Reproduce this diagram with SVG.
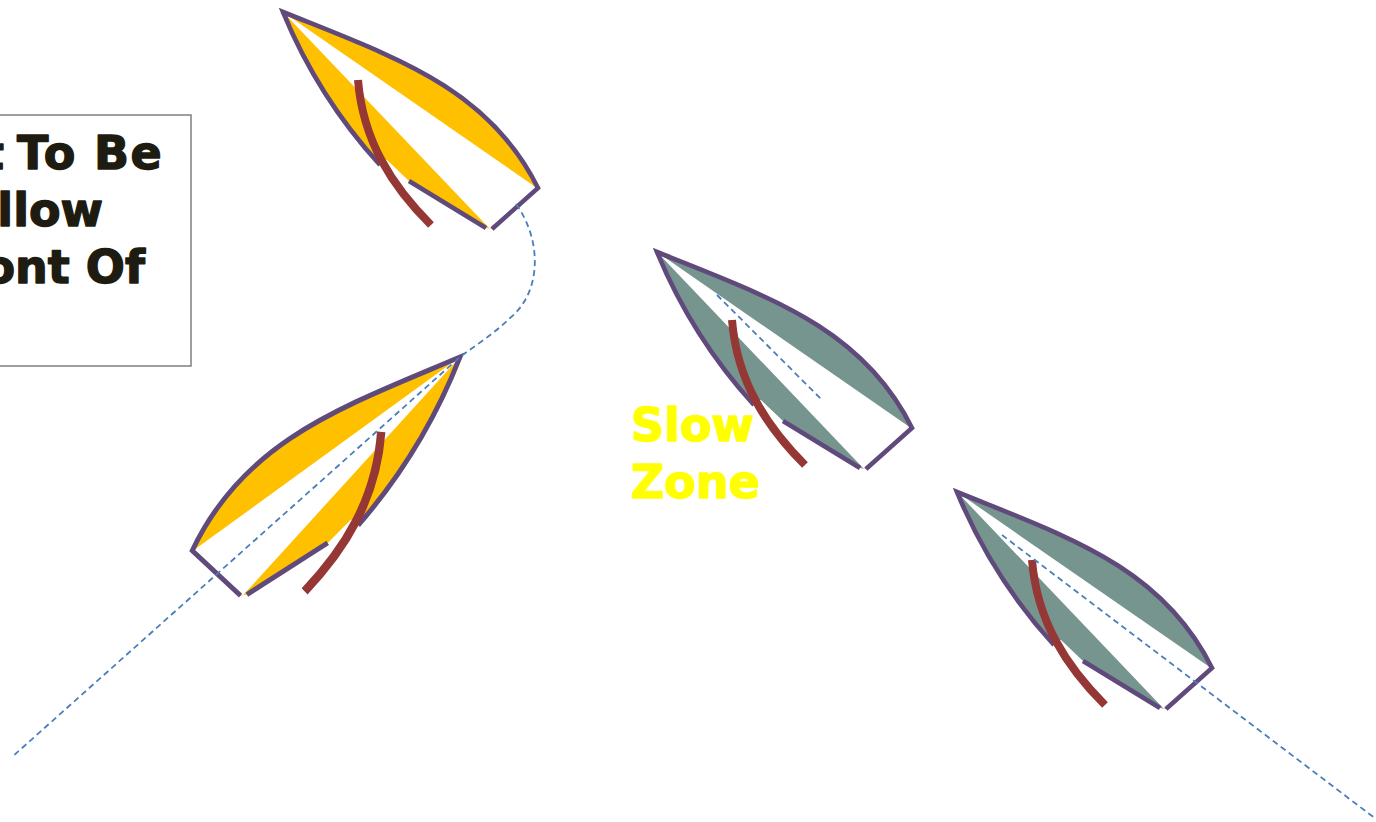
<svg xmlns="http://www.w3.org/2000/svg" xmlns:xlink="http://www.w3.org/1999/xlink" width="1376" height="822" viewBox="0 0 1376 822">
  <style>
    .sail-yellow { fill: #FFC000; }
    .sail-green { fill: #77958F; }
    .deck { fill: #FFFFFF; }
    .hull-line { fill: none; stroke: #604A7B; stroke-width: 4.6; stroke-linejoin: miter; stroke-miterlimit: 10; vector-effect: non-scaling-stroke; }
    .mast { fill: none; stroke: #953735; stroke-width: 8; vector-effect: non-scaling-stroke; }
    .track { fill: none; stroke: #4A7EBB; stroke-width: 1.8; stroke-dasharray: 6 4; }
    .note { font-family: "DejaVu Sans", "Liberation Sans", sans-serif; font-weight: bold; font-size: 46px; stroke-width: 1.4; stroke-linejoin: round; }
    .note-dark { fill: #1E1C11; stroke: #1E1C11; }
    .note-yellow { fill: #FFFF00; stroke: #FFFF00; }
  </style>
  <defs>
    <!-- boat drawn with its bow at the origin, heading up-left -->
    <path id="hull-fill" d="M0,0 C111,45 205,75 255,176 L209,217 L203,216 L126,169 L104,148 L95,150 Q35,85 0,0 Z"/>
    <path id="deck" d="M0,0 L254,176 L207,217 Z"/>
    <path id="hull-line-a" d="M209,217 L255,176 C205,75 111,45 0,0 Q35,85 97,153"/>
    <path id="hull-line-b" d="M126,169 L203,216"/>
    <path id="mast" d="M75,68 C80,130 110,175 148,213"/>
  </defs>

  <!-- note box, running off the left edge -->
  <g id="note-box">
    <rect x="-10" y="115" width="201" height="251" fill="#FFFFFF" stroke="#7F7F7F" stroke-width="1.5"/>
    <text class="note note-dark" y="169"><tspan x="-18">t</tspan> <tspan x="17" letter-spacing="1.4">To Be</tspan></text>
    <text class="note note-dark" text-anchor="end" x="103" y="226">llow</text>
    <text class="note note-dark" text-anchor="end" x="145" y="283">ont Of</text>
  </g>

  <g id="boat-yellow-top" transform="translate(283,12)">
    <use xlink:href="#hull-fill" class="sail-yellow"/>
    <use xlink:href="#deck" class="deck"/>
    <use xlink:href="#hull-line-a" class="hull-line"/>
    <use xlink:href="#hull-line-b" class="hull-line"/>
    <use xlink:href="#mast" class="mast"/>
  </g>

  <g id="boat-yellow-bottom" transform="translate(460,357) scale(-1.05,1.1)">
    <use xlink:href="#hull-fill" class="sail-yellow"/>
    <use xlink:href="#deck" class="deck"/>
    <use xlink:href="#hull-line-a" class="hull-line"/>
    <use xlink:href="#hull-line-b" class="hull-line"/>
    <use xlink:href="#mast" class="mast"/>
  </g>

  <g id="boat-green-top" transform="translate(657,252)">
    <use xlink:href="#hull-fill" class="sail-green"/>
    <use xlink:href="#deck" class="deck"/>
    <use xlink:href="#hull-line-a" class="hull-line"/>
    <use xlink:href="#hull-line-b" class="hull-line"/>
    <use xlink:href="#mast" class="mast"/>
  </g>

  <g id="boat-green-bottom" transform="translate(957,492)">
    <use xlink:href="#hull-fill" class="sail-green"/>
    <use xlink:href="#deck" class="deck"/>
    <use xlink:href="#hull-line-a" class="hull-line"/>
    <use xlink:href="#hull-line-b" class="hull-line"/>
    <use xlink:href="#mast" class="mast"/>
  </g>

  <g id="slow-zone-label">
    <text class="note note-yellow" x="631" y="441">Slow</text>
    <text class="note note-yellow" x="631" y="498">Zone</text>
  </g>

  <!-- dashed tracks -->
  <g id="connectors">
    <path class="track" d="M516,204 C542,240 542,292 510,318 C495,333 476,345 460,357 L12,757"/>
    <path class="track" d="M717,295 L822,400"/>
    <path class="track" d="M1002,535 L1376,819"/>
  </g>
</svg>
